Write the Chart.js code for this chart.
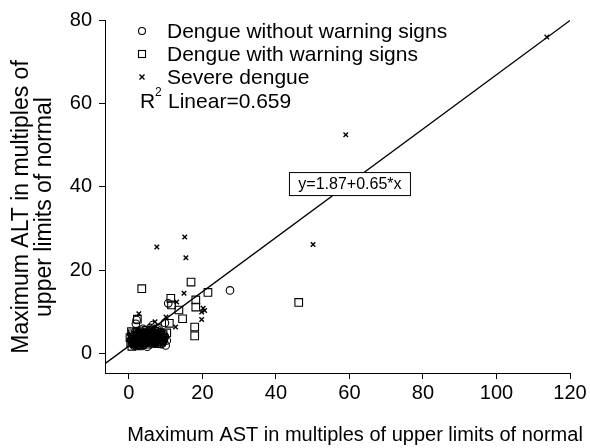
<!DOCTYPE html>
<html>
<head>
<meta charset="utf-8">
<script src="https://cdn.jsdelivr.net/npm/chart.js@4/dist/chart.umd.min.js"></script>
<style>
  body { margin: 0; background: #fff; }
  canvas { display: block; }
</style>
</head>
<body>
<canvas id="chartAstAlt" width="590" height="448"></canvas>
<script>
const xTicks = [0, 20, 40, 60, 80, 100, 120]
const yTicks = [0, 20, 40, 60, 80]

const seriesNames = ['Dengue without warning signs', 'Dengue with warning signs', 'Severe dengue']
const xTitle = 'Maximum AST in multiples of upper limits of normal'
const yTitle = ['Maximum ALT in multiples of', 'upper limits of normal']

// [AST, ALT] pairs
const withoutWarning = [
    [27.5, 15.2], [10.7, 12.1], [1.9, 7.2], [8.0, 6.2], [10.0, 2.0], [2.8, 2.0],
    [2.1, 8.1], [9.8, 7.4], [10.3, 3.2], [6.5, 6.9],
    [0.6, 3.4], [1.4, 2.0], [2.4, 4.6], [3.4, 3.7], [4.4, 2.5], [5.4, 4.9],
    [6.4, 2.9], [7.4, 3.9], [8.4, 5.2], [9.4, 3.0], [1.8, 5.4], [3.8, 6.0],
    [5.8, 6.2], [7.8, 5.8], [2.6, 2.6], [4.6, 3.2], [6.6, 4.5], [8.8, 2.3],
    [9.8, 4.1], [5.0, 1.7],
    [1.1, 2.9], [2.2, 3.3], [3.6, 4.4], [4.9, 2.8], [6.2, 3.5], [7.1, 3.1],
    [8.6, 3.9], [3.1, 5.5], [5.6, 5.6], [0.9, 4.0], [6.9, 5.1], [9.2, 4.9]
]
const withWarning = [
    [3.5, 15.6], [16.9, 17.2], [21.5, 14.7], [11.4, 13.3], [11.6, 11.7], [18.2, 12.9],
    [18.2, 11.2], [13.6, 10.5], [14.6, 8.4], [11.0, 7.3], [17.9, 6.4], [17.9, 4.3],
    [46.2, 12.3], [2.3, 8.3], [0.7, 5.3], [10.3, 5.0],
    [0.5, 2.6], [1.0, 3.1], [1.5, 2.4], [2.0, 3.6], [2.5, 2.9], [3.0, 4.1],
    [3.5, 3.3], [4.0, 2.7], [4.5, 3.8], [5.0, 4.4], [5.5, 3.0], [6.0, 3.6],
    [6.5, 4.2], [7.0, 2.8], [7.5, 3.4], [8.0, 4.0], [8.5, 3.1], [9.0, 3.7],
    [1.2, 4.3], [2.2, 2.1], [3.2, 5.0], [4.2, 4.9], [5.2, 2.3], [6.2, 5.3],
    [7.2, 4.7], [8.2, 2.5], [9.3, 4.6], [0.8, 1.8], [2.8, 1.9], [4.8, 5.6],
    [3.6, 2.2], [6.8, 3.2],
    [0.3, 3.9], [0.9, 4.8], [1.6, 3.2], [1.9, 4.4], [2.3, 5.1], [2.7, 3.4],
    [3.1, 2.5], [3.3, 4.5], [3.9, 3.0], [4.1, 4.0], [4.3, 3.5], [4.7, 2.9],
    [4.9, 4.2], [5.3, 3.7], [5.7, 4.8], [5.9, 2.8], [6.1, 4.1], [6.3, 3.3],
    [6.7, 2.6], [6.9, 4.9], [7.3, 3.7], [7.7, 4.3], [7.9, 2.9], [8.3, 3.5],
    [8.7, 4.4], [8.9, 2.8], [9.1, 3.3], [9.5, 3.9], [1.7, 2.7], [2.9, 3.8],
    [3.7, 4.7], [5.1, 5.2], [5.6, 2.6], [7.1, 5.4], [8.1, 5.0], [1.3, 3.8],
    [2.1, 2.9], [4.6, 4.6], [6.0, 4.7], [7.6, 2.5]
]
const severe = [
    [113.7, 75.9], [59.0, 52.5], [50.1, 26.2], [7.6, 25.6], [15.2, 28.0], [15.5, 23.0],
    [15.0, 14.5], [20.2, 10.9], [20.6, 10.4], [19.8, 10.0], [19.8, 8.2], [10.1, 8.8],
    [12.7, 6.4], [7.1, 7.7], [13.0, 12.4], [2.7, 9.6], [5.6, 2.3],
    [1.0, 2.2], [2.0, 4.0], [3.0, 3.0], [4.0, 5.3], [5.0, 3.5], [6.0, 2.4],
    [7.0, 4.6], [8.0, 3.2], [9.0, 5.5], [3.5, 1.6], [6.5, 6.4], [5.5, 4.1],
    [2.5, 5.8], [7.5, 2.0],
    [1.6, 3.6], [2.8, 4.8], [4.3, 3.9], [5.8, 3.0], [6.7, 3.9], [8.3, 4.4],
    [9.5, 3.6], [3.9, 2.4]
]

// fit line y = 1.87 + 0.65*x, drawn across the x range
const fitIntercept = 1.87
const fitSlope = 0.65
const fitX = [-6.5, 120]
const fitLabel = 'y=1.87+0.65*x'
const rSquaredText = 'Linear=0.659'

const FONT = '"Liberation Sans", Arial, sans-serif'

function toPoints(list) {
    return list.map(p => ({x: p[0], y: p[1]}))
}

const markerStyle = {
    showLine: false,
    borderColor: '#000',
    backgroundColor: 'rgba(0,0,0,0)',
    borderWidth: 1.1,
    pointHoverRadius: 0
}

// legend, R2, equation box and axis titles drawn on top
const annotations = {
    id: 'annotations',
    afterDraw(chart) {
        const ctx = chart.ctx
        const area = chart.chartArea
        const xs = chart.scales.x
        const ys = chart.scales.y
        ctx.save()
        ctx.fillStyle = '#000'
        ctx.strokeStyle = '#000'
        ctx.textBaseline = 'middle'
        ctx.font = '21px ' + FONT

        const mx = area.left + 37
        const tx = area.left + 62
        const rows = [11, 34, 57]
        ctx.lineWidth = 1.1
        ctx.beginPath()
        ctx.arc(mx, area.top + rows[0], 3.5, 0, Math.PI * 2)
        ctx.stroke()
        ctx.strokeRect(mx - 3.5, area.top + rows[1] - 3.5, 7, 7)
        ctx.lineWidth = 1.4
        ctx.beginPath()
        ctx.moveTo(mx - 2.5, area.top + rows[2] - 2.5)
        ctx.lineTo(mx + 2.5, area.top + rows[2] + 2.5)
        ctx.moveTo(mx + 2.5, area.top + rows[2] - 2.5)
        ctx.lineTo(mx - 2.5, area.top + rows[2] + 2.5)
        ctx.stroke()

        seriesNames.forEach((name, i) => ctx.fillText(name, tx, area.top + rows[i] + 1))

        // R^2 Linear=...
        const ry = area.top + 82
        ctx.fillText('R', area.left + 35, ry)
        ctx.font = '12px ' + FONT
        ctx.fillText('2', area.left + 50, ry - 9)
        ctx.font = '21px ' + FONT
        ctx.fillText(rSquaredText, area.left + 63, ry)

        // equation box on the fit line
        const cx = xs.getPixelForValue(60)
        const cy = ys.getPixelForValue(40.8)
        ctx.font = '16px ' + FONT
        const w = 121, h = 23
        ctx.fillStyle = '#fff'
        ctx.fillRect(cx - w / 2, cy - h / 2, w, h)
        ctx.lineWidth = 1
        ctx.strokeRect(cx - w / 2 + 0.5, cy - h / 2 + 0.5, w, h)
        ctx.fillStyle = '#000'
        ctx.textAlign = 'center'
        ctx.fillText(fitLabel, cx + 0.5, cy + 1)

        // x axis title
        ctx.font = '20px ' + FONT
        ctx.fillText(xTitle, 355, 435)

        // y axis title, two rotated lines
        ctx.font = '23px ' + FONT
        ctx.translate(0, 207)
        ctx.rotate(-Math.PI / 2)
        ctx.fillText(yTitle[0], 0, 22)
        ctx.fillText(yTitle[1], 0, 45)
        ctx.restore()
    }
}

const data = {
    datasets: [
        {...markerStyle, label: seriesNames[0], data: toPoints(withoutWarning), pointStyle: 'circle', pointRadius: 3.8},
        {...markerStyle, label: seriesNames[1], data: toPoints(withWarning), pointStyle: 'rect', pointRadius: 5.4},
        {...markerStyle, label: seriesNames[2], data: toPoints(severe), pointStyle: 'crossRot', pointRadius: 3.2, borderWidth: 1.4},
        {
            type: 'line',
            label: 'fit',
            data: fitX.map(x => ({x, y: fitIntercept + fitSlope * x})),
            borderColor: '#000',
            borderWidth: 1.3,
            pointRadius: 0,
            fill: false
        }
    ]
}

const options = {
    responsive: false,
    animation: false,
    devicePixelRatio: 1,
    layout: { padding: { left: 0, right: 20, top: 20, bottom: 0 } },
    plugins: {
        legend: { display: false },
        tooltip: { enabled: false }
    },
    scales: {
        x: {
            type: 'linear',
            min: -6.5,
            max: 120,
            afterBuildTicks: s => { s.ticks = xTicks.map(v => ({value: v})) },
            afterFit: s => { s.height = 75 },
            grid: { drawOnChartArea: false, drawTicks: true, tickLength: 6, color: '#000', lineWidth: 1 },
            border: { display: true, color: '#000', width: 1 },
            ticks: { color: '#000', font: { family: FONT, size: 20 }, padding: 2, maxRotation: 0 }
        },
        y: {
            type: 'linear',
            min: -4.6,
            max: 80,
            afterBuildTicks: s => { s.ticks = yTicks.map(v => ({value: v})) },
            afterFit: s => { s.width = 105 },
            grid: { drawOnChartArea: false, drawTicks: true, tickLength: 6, color: '#000', lineWidth: 1 },
            border: { display: true, color: '#000', width: 1 },
            ticks: { color: '#000', font: { family: FONT, size: 20 }, padding: 7 }
        }
    }
}

new Chart('chartAstAlt', {type: 'scatter', data, options, plugins: [annotations]})
</script>
</body>
</html>
